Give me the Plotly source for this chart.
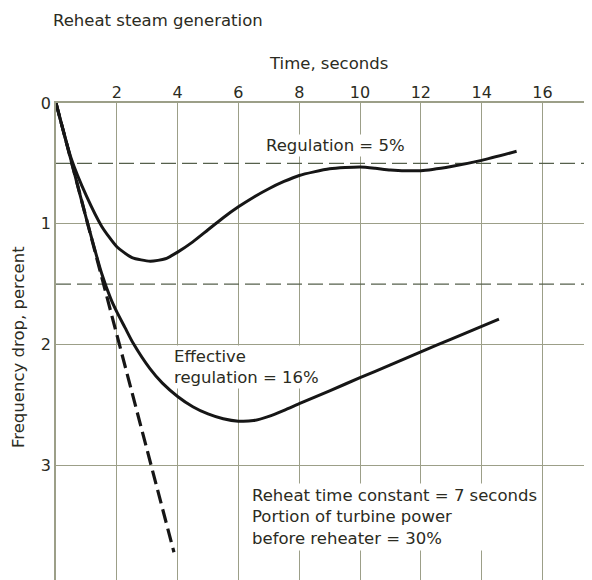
import plotly.graph_objects as go

# ---- data ----
x_ticks = [2, 4, 6, 8, 10, 12, 14, 16]
y_ticks = [0, 1, 2, 3]

# Regulation = 5% curve
upper_t = [0, 0.5, 1.0, 1.5, 2.0, 2.5, 3.1, 3.6, 4.0, 4.5, 5.0, 5.5, 6.0, 6.5, 7.0, 7.5, 8.0, 9.0, 10.0, 10.5, 11.0, 12.0, 13.0, 14.0, 15.15]
upper_d = [0, 0.46, 0.77, 1.02, 1.19, 1.28, 1.31, 1.29, 1.235, 1.15, 1.05, 0.95, 0.86, 0.78, 0.71, 0.65, 0.60, 0.545, 0.53, 0.54, 0.555, 0.56, 0.525, 0.475, 0.40]

# Effective regulation = 16% curve
lower_t = [0, 0.5, 1.0, 1.5, 1.8, 2.0, 2.27, 2.54, 3.09, 3.5, 4.0, 4.5, 5.0, 5.5, 6.0, 6.5, 7.0, 7.5, 8.0, 9.0, 10.0, 11.0, 12.0, 13.0, 14.0, 14.57]
lower_d = [0, 0.48, 0.96, 1.41, 1.62, 1.73, 1.86, 1.99, 2.20, 2.32, 2.43, 2.515, 2.575, 2.615, 2.635, 2.63, 2.595, 2.545, 2.49, 2.383, 2.275, 2.168, 2.06, 1.955, 1.85, 1.79]

# Steep dashed line (no reheat)
steep_t = [0, 3.88]
steep_d = [0, 3.72]

# Steady-state regulation levels (dashed horizontal lines)
reg_levels = [0.5, 1.5]

x_max = 17.63
y_max = 3.95

FONT = "DejaVu Sans"
TXT = "#2b2b22"
GRID = "#9c9f88"
CURVE = "#161616"

# the page body has an 8px default margin; compensate so the chart lands where the reference has it
W, H = 584, 572
ML, MT = 48, 95

fig = go.Figure()

for lvl in reg_levels:
    fig.add_trace(go.Scatter(
        x=[0, x_max], y=[lvl, lvl], mode="lines",
        line=dict(color="#56604c", width=1.4, dash="15px,6px"),
        hoverinfo="skip", showlegend=False))

fig.add_trace(go.Scatter(
    x=steep_t, y=steep_d, mode="lines",
    line=dict(color=CURVE, width=3.2, dash="14px,6px"),
    showlegend=False))

fig.add_trace(go.Scatter(
    x=upper_t, y=upper_d, mode="lines",
    line=dict(color=CURVE, width=3, shape="spline", smoothing=0.6),
    showlegend=False))

fig.add_trace(go.Scatter(
    x=lower_t, y=lower_d, mode="lines",
    line=dict(color=CURVE, width=3, shape="spline", smoothing=0.6),
    showlegend=False))

fig.update_layout(
    width=W, height=H,
    margin=dict(l=ML, r=0, t=MT, b=0),
    paper_bgcolor="white", plot_bgcolor="white",
    font=dict(family=FONT, size=16, color=TXT),
    title=dict(text="Reheat steam generation", x=(53 - 8) / W, xanchor="left",
               xref="container", y=1 - (20 - 8) / H, yanchor="middle", yref="container",
               font=dict(family=FONT, size=16.5, color=TXT)),
    showlegend=False,
)

fig.update_xaxes(
    side="top", range=[0, x_max], tickvals=x_ticks, ticktext=[str(v) for v in x_ticks],
    showgrid=True, gridcolor=GRID, gridwidth=1.4, zeroline=False,
    showline=True, linecolor=GRID, linewidth=1.6, ticks="", ticklen=0,
    ticklabelstandoff=-3,
    tickfont=dict(family=FONT, size=16, color=TXT), automargin=False)

fig.update_yaxes(
    range=[y_max, 0], tickvals=y_ticks, ticktext=[str(v) for v in y_ticks],
    showgrid=True, gridcolor=GRID, gridwidth=1.4, zeroline=False,
    showline=True, linecolor=GRID, linewidth=1.6, ticks="", ticklen=0,
    tickfont=dict(family=FONT, size=16, color=TXT), automargin=False)

annotations = [
    dict(text="Time, seconds", xref="paper", yref="paper",
         x=(328 - 56) / 536, y=(580 - 63) / 477, xanchor="center", yanchor="middle",
         showarrow=False, font=dict(size=16.5)),
    dict(text="Frequency drop, percent", xref="paper", yref="paper",
         x=(18 - 56) / 536, y=(580 - 347) / 477, xanchor="center", yanchor="middle",
         textangle=-90, showarrow=False, font=dict(size=16.5)),
    dict(text="Regulation = 5%", xref="x", yref="y", x=6.85, y=0.355,
         xanchor="left", yanchor="middle", showarrow=False,
         bgcolor="white", borderpad=1, font=dict(size=16.5)),
    dict(text="Effective<br>regulation = 16%", xref="x", yref="y", x=3.8, y=2.19,
         xanchor="left", yanchor="middle", align="left", showarrow=False,
         bgcolor="white", borderpad=1, font=dict(size=16.5)),
    dict(text="Reheat time constant = 7 seconds<br>Portion of turbine power<br>before reheater = 30%",
         xref="x", yref="y", x=6.36, y=3.43,
         xanchor="left", yanchor="middle", align="left", showarrow=False,
         bgcolor="white", borderpad=2, font=dict(size=16.5)),
]
fig.update_layout(annotations=annotations)

fig.write_html("out.html")
